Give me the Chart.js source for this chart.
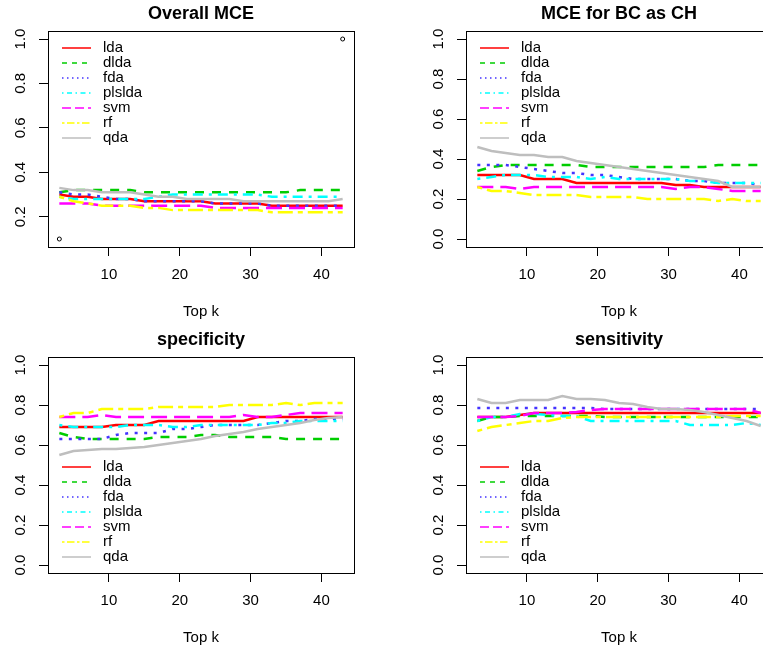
<!DOCTYPE html>
<html>
<head>
<meta charset="utf-8">
<script src="https://cdn.jsdelivr.net/npm/chart.js@4.4.1/dist/chart.umd.min.js"></script>
<style>
  html, body { margin: 0; padding: 0; background: #fff; }
  body { width: 763px; height: 652px; overflow: hidden; position: relative; }
  .panel { position: absolute; width: 418px; height: 326px; }
</style>
</head>
<body>
<div class="panel" style="left:0;top:0"><canvas id="overall" width="418" height="326"></canvas></div>
<div class="panel" style="left:418px;top:0"><canvas id="bcch" width="418" height="326"></canvas></div>
<div class="panel" style="left:0;top:326px"><canvas id="spec" width="418" height="326"></canvas></div>
<div class="panel" style="left:418px;top:326px"><canvas id="sens" width="418" height="326"></canvas></div>
<script>
const topK = [3, 5, 7, 9, 11, 13, 15, 17, 19, 21, 23, 25, 27, 29, 31, 33, 35, 37, 39, 41, 43];
const methods = ['lda', 'dlda', 'fda', 'plslda', 'svm', 'rf', 'qda'];
const xTicks = [10, 20, 30, 40];
const yTicks = [0.0, 0.2, 0.4, 0.6, 0.8, 1.0];
const yTicksOverall = [0.2, 0.4, 0.6, 0.8, 1.0];
// the two range points plotted in the first panel
const rangeX = [3, 43];
const rangeY = [0.1, 1.0];

// Overall MCE
const ovLda    = [0.30,0.29,0.29,0.28,0.28,0.28,0.27,0.27,0.27,0.27,0.27,0.26,0.26,0.26,0.26,0.25,0.25,0.25,0.25,0.25,0.25];
const ovDlda   = [0.31,0.32,0.32,0.32,0.32,0.32,0.31,0.31,0.31,0.31,0.31,0.31,0.31,0.31,0.31,0.31,0.31,0.32,0.32,0.32,0.32];
const ovFda    = [0.31,0.30,0.30,0.29,0.28,0.28,0.27,0.27,0.27,0.27,0.27,0.26,0.26,0.26,0.26,0.25,0.25,0.25,0.25,0.25,0.25];
const ovPlslda = [0.29,0.28,0.28,0.28,0.28,0.28,0.28,0.29,0.30,0.30,0.30,0.30,0.30,0.30,0.30,0.29,0.29,0.29,0.29,0.29,0.29];
const ovSvm    = [0.26,0.26,0.26,0.25,0.25,0.25,0.25,0.25,0.25,0.25,0.25,0.24,0.24,0.24,0.24,0.24,0.24,0.24,0.24,0.24,0.24];
const ovRf     = [0.29,0.27,0.26,0.25,0.25,0.25,0.24,0.24,0.23,0.23,0.23,0.23,0.23,0.23,0.23,0.22,0.22,0.22,0.22,0.22,0.22];
const ovQda    = [0.33,0.32,0.32,0.31,0.31,0.31,0.30,0.29,0.29,0.28,0.28,0.28,0.28,0.27,0.27,0.27,0.27,0.27,0.27,0.27,0.28];

// MCE for BC as CH
const bcLda    = [0.32,0.32,0.32,0.32,0.30,0.30,0.30,0.28,0.28,0.28,0.28,0.28,0.28,0.28,0.27,0.27,0.26,0.26,0.26,0.26,0.26];
const bcDlda   = [0.34,0.36,0.37,0.37,0.37,0.37,0.37,0.37,0.36,0.36,0.36,0.36,0.36,0.36,0.36,0.36,0.36,0.37,0.37,0.37,0.37];
const bcFda    = [0.37,0.37,0.37,0.36,0.35,0.34,0.33,0.33,0.32,0.32,0.31,0.30,0.30,0.30,0.30,0.29,0.29,0.28,0.28,0.28,0.27];
const bcPlslda = [0.30,0.31,0.32,0.32,0.32,0.31,0.31,0.31,0.30,0.31,0.30,0.30,0.30,0.30,0.30,0.29,0.29,0.28,0.28,0.28,0.28];
const bcSvm    = [0.26,0.26,0.26,0.25,0.26,0.26,0.26,0.26,0.26,0.26,0.26,0.26,0.26,0.26,0.25,0.26,0.26,0.25,0.24,0.24,0.24];
const bcRf     = [0.26,0.24,0.24,0.23,0.22,0.22,0.22,0.22,0.21,0.21,0.21,0.21,0.20,0.20,0.20,0.20,0.20,0.19,0.20,0.19,0.19];
const bcQda    = [0.46,0.44,0.43,0.42,0.42,0.41,0.41,0.39,0.38,0.37,0.36,0.35,0.34,0.33,0.32,0.31,0.30,0.29,0.26,0.26,0.26];

// specificity
const spLda    = [0.69,0.69,0.69,0.69,0.70,0.70,0.70,0.72,0.72,0.72,0.72,0.72,0.72,0.72,0.74,0.74,0.74,0.74,0.74,0.74,0.74];
const spDlda   = [0.66,0.64,0.63,0.63,0.63,0.63,0.63,0.64,0.64,0.64,0.65,0.65,0.64,0.64,0.64,0.64,0.63,0.63,0.63,0.63,0.63];
const spFda    = [0.63,0.63,0.63,0.63,0.65,0.66,0.66,0.66,0.68,0.68,0.69,0.70,0.70,0.70,0.70,0.71,0.72,0.72,0.73,0.73,0.73];
const spPlslda = [0.70,0.69,0.69,0.69,0.69,0.70,0.70,0.70,0.69,0.69,0.70,0.70,0.70,0.70,0.70,0.71,0.71,0.72,0.72,0.72,0.72];
const spSvm    = [0.74,0.74,0.74,0.75,0.74,0.74,0.74,0.74,0.74,0.74,0.74,0.74,0.74,0.75,0.74,0.74,0.75,0.76,0.76,0.76,0.76];
const spRf     = [0.74,0.76,0.76,0.78,0.78,0.78,0.78,0.79,0.79,0.79,0.79,0.79,0.80,0.80,0.80,0.80,0.81,0.80,0.81,0.81,0.81];
const spQda    = [0.55,0.57,0.575,0.58,0.58,0.585,0.59,0.60,0.61,0.62,0.63,0.645,0.655,0.665,0.68,0.69,0.70,0.71,0.725,0.735,0.74];

// sensitivity
const seLda    = [0.74,0.74,0.74,0.75,0.76,0.76,0.76,0.76,0.76,0.76,0.76,0.76,0.76,0.76,0.76,0.76,0.76,0.76,0.76,0.76,0.76];
const seDlda   = [0.72,0.74,0.74,0.745,0.745,0.745,0.745,0.745,0.745,0.74,0.74,0.74,0.74,0.74,0.74,0.74,0.74,0.74,0.74,0.74,0.74];
const seFda    = [0.785,0.785,0.785,0.785,0.785,0.785,0.785,0.785,0.785,0.78,0.78,0.78,0.78,0.78,0.78,0.78,0.78,0.78,0.78,0.78,0.78];
const sePlslda = [0.72,0.74,0.74,0.755,0.755,0.75,0.745,0.745,0.72,0.72,0.72,0.72,0.72,0.72,0.72,0.70,0.70,0.70,0.70,0.71,0.70];
const seSvm    = [0.74,0.74,0.74,0.745,0.76,0.76,0.76,0.765,0.775,0.78,0.78,0.78,0.78,0.78,0.78,0.78,0.78,0.78,0.78,0.78,0.76];
const seRf     = [0.67,0.69,0.70,0.71,0.72,0.72,0.735,0.74,0.74,0.74,0.74,0.74,0.74,0.74,0.74,0.74,0.74,0.74,0.745,0.745,0.745];
const seQda    = [0.83,0.81,0.81,0.825,0.825,0.825,0.845,0.83,0.83,0.825,0.81,0.805,0.79,0.78,0.78,0.775,0.765,0.75,0.735,0.72,0.695];

const FONT = '"Liberation Sans", Arial, Helvetica, sans-serif';
const lineColors = ['#ff0000', '#00cd00', '#4433ff', '#00ffff', '#ff00ff', '#ffff00', '#bebebe'];
// R lty 1..6, then 1 again
const lineDashes = [[], [9, 8], [3, 6.5], [3, 6, 10, 6], [16, 7], [5, 5, 15, 5], []];
const legendDashes = [[], [5, 5], [1.5, 3.5], [1.5, 3.5, 5, 3.5], [9, 4], [2.5, 2.5, 7.5, 2.5], []];

// box around the plot region
const boxPlugin = {
  id: 'rBox',
  afterDraw(chart) {
    const {ctx, chartArea: a} = chart;
    ctx.save();
    ctx.strokeStyle = '#000';
    ctx.lineWidth = 1;
    ctx.strokeRect(Math.round(a.left) + 0.5, Math.round(a.top) + 0.5,
      Math.round(a.right - a.left), Math.round(a.bottom - a.top));
    ctx.restore();
  }
};

// vertical y tick labels like R's default las=0
const yLabelPlugin = {
  id: 'rYLabels',
  afterDraw(chart) {
    const {ctx} = chart;
    const y = chart.scales.y;
    ctx.save();
    ctx.font = '15px ' + FONT;
    ctx.fillStyle = '#000';
    ctx.textAlign = 'center';
    ctx.textBaseline = 'middle';
    y.ticks.forEach(t => {
      ctx.save();
      ctx.translate(21, y.getPixelForValue(t.value));
      ctx.rotate(-Math.PI / 2);
      ctx.fillText(t.value.toFixed(1), 0, 0);
      ctx.restore();
    });
    ctx.restore();
  }
};

// legend without a frame inside the plot
const rLegendPlugin = {
  id: 'rLegend',
  afterDraw(chart, args, opts) {
    const {ctx, chartArea} = chart;
    const rowH = 15;
    const x0 = chartArea.left + 14;
    const y0 = opts.position === 'bottom'
      ? chartArea.bottom - 16 - rowH * (methods.length - 1)
      : chartArea.top + 17;
    ctx.save();
    ctx.font = '15px ' + FONT;
    ctx.textBaseline = 'middle';
    ctx.fillStyle = '#000';
    methods.forEach((m, i) => {
      const yy = y0 + i * rowH;
      ctx.beginPath();
      ctx.setLineDash(legendDashes[i]);
      ctx.strokeStyle = lineColors[i];
      ctx.lineWidth = 1.5;
      ctx.moveTo(x0, yy);
      ctx.lineTo(x0 + 29, yy);
      ctx.stroke();
      ctx.setLineDash([]);
      ctx.fillText(m, x0 + 41, yy);
    });
    ctx.restore();
  }
};

function makePanel(id, title, series, ticksY, yMin, yMax, legendPos, withRange) {
  const datasets = series.map((vals, i) => ({
    label: methods[i],
    data: topK.map((k, j) => ({x: k, y: vals[j]})),
    borderColor: lineColors[i],
    borderDash: lineDashes[i],
    borderWidth: 2.5,
    borderCapStyle: 'butt',
    pointRadius: 0,
    tension: 0,
    fill: false,
    order: methods.length - i
  }));
  if (withRange) {
    datasets.push({
      label: 'range',
      data: rangeX.map((x, j) => ({x: x, y: rangeY[j]})),
      showLine: false,
      pointRadius: 2,
      pointBorderWidth: 1,
      pointBorderColor: '#000',
      pointBackgroundColor: 'rgba(0,0,0,0)',
      order: 0
    });
  }
  const tickGrid = {drawOnChartArea: false, drawTicks: true, tickLength: 9, color: '#000', lineWidth: 1};

  return new Chart(document.getElementById(id), {
    type: 'line',
    data: {datasets},
    options: {
      responsive: false,
      animation: false,
      layout: {padding: {left: 0, right: 64, top: 0, bottom: 0}},
      plugins: {
        legend: {display: false},
        tooltip: {enabled: false},
        title: {
          display: true, text: title, fullSize: false, color: '#000',
          font: {family: FONT, size: 18, weight: 'bold'},
          padding: {top: 3, bottom: 6.4}
        },
        rLegend: {position: legendPos}
      },
      scales: {
        x: {
          type: 'linear', min: 1.4, max: 44.6,
          afterBuildTicks: s => { s.ticks = xTicks.map(v => ({value: v})); },
          afterFit: s => { s.height = 79; },
          grid: tickGrid,
          border: {display: false},
          ticks: {color: '#000', font: {family: FONT, size: 15}, padding: 10, maxRotation: 0, autoSkip: false},
          title: {display: true, text: 'Top k', color: '#000', font: {family: FONT, size: 15}, padding: {top: 0, bottom: 5}}
        },
        y: {
          type: 'linear', min: yMin, max: yMax,
          afterBuildTicks: s => { s.ticks = ticksY.map(v => ({value: v})); },
          afterFit: s => { s.width = 48; },
          grid: tickGrid,
          border: {display: false},
          ticks: {display: false}
        }
      }
    },
    plugins: [boxPlugin, yLabelPlugin, rLegendPlugin]
  });
}

makePanel('overall', 'Overall MCE',
  [ovLda, ovDlda, ovFda, ovPlslda, ovSvm, ovRf, ovQda], yTicksOverall, 0.064, 1.036, 'top', true);
makePanel('bcch', 'MCE for BC as CH',
  [bcLda, bcDlda, bcFda, bcPlslda, bcSvm, bcRf, bcQda], yTicks, -0.04, 1.04, 'top', false);
makePanel('spec', 'specificity',
  [spLda, spDlda, spFda, spPlslda, spSvm, spRf, spQda], yTicks, -0.04, 1.04, 'bottom', false);
makePanel('sens', 'sensitivity',
  [seLda, seDlda, seFda, sePlslda, seSvm, seRf, seQda], yTicks, -0.04, 1.04, 'bottom', false);
</script>
</body>
</html>
